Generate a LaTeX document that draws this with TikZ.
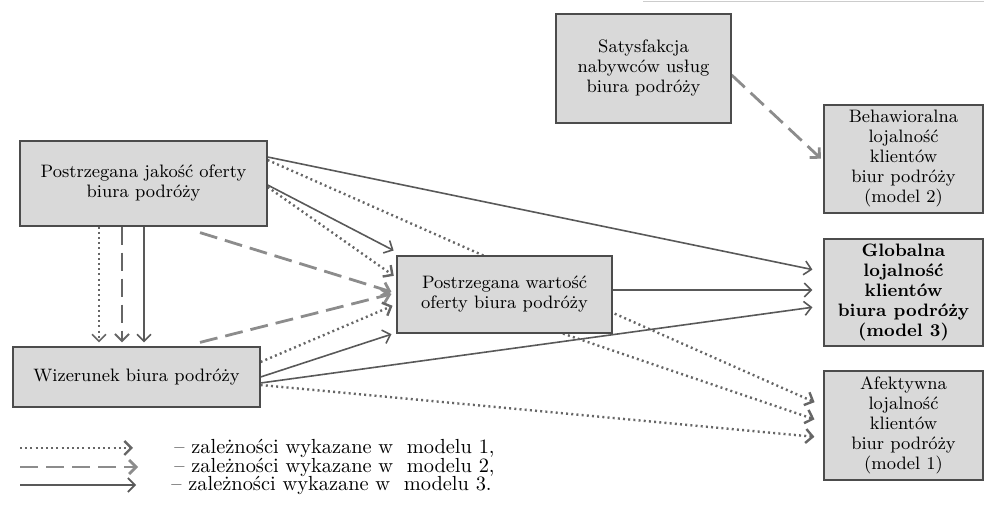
\documentclass[tikz,border=0pt]{standalone}
\usepackage{fontspec}
\usepackage{tikz}
\usetikzlibrary{arrows.meta,calc,backgrounds}

\tikzset{
  box/.style={draw=black!70, fill=black!15, line width=0.6pt, align=center,
    inner sep=2pt, font=\fontsize{9}{10}\selectfont},
  conn/.style={-{Straight Barb[length=3.5pt,width=7pt]}, shorten >=1pt},
  model1/.style={conn, draw=black!60, line width=1.2pt, dash pattern=on 1pt off 1.6pt},
  model2/.style={conn, draw=black!45, line width=1.4pt, dash pattern=on 9pt off 4pt},
  model3/.style={conn, draw=black!65, line width=0.8pt},
  legtext/.style={anchor=west, inner sep=0pt, font=\fontsize{10.2}{10}\selectfont}
}

\begin{document}
\begin{tikzpicture}[x=0.5pt,y=-0.5pt]
    \useasboundingbox (0,0) rectangle (984,522);
    \draw[black!20] (643,1) -- (984,1);

    % boxes
    \node[box, minimum width=87.5pt, minimum height=54.5pt] (sat) at (643.5,68.5)
        {Satysfakcja\\nabywców usług\\biura podróży};
    \node[box, minimum width=79.5pt, minimum height=54pt] (beh) at (903.5,159)
        {Behawioralna\\lojalność\\klientów\\biur podróży\\(model 2)};
    \node[box, minimum width=79.5pt, minimum height=53.5pt, font=\fontsize{9}{10}\selectfont\bfseries] (glob) at (903.5,292.5)
        {Globalna\\lojalność\\klientów\\biura podróży\\(model 3)};
    \node[box, minimum width=79.5pt, minimum height=54.5pt] (afek) at (903.5,425.5)
        {Afektywna\\lojalność\\klientów\\biur podróży\\(model 1)};
    \node[box, minimum width=123.5pt, minimum height=42.5pt] (jak) at (143.5,183.5)
        {Postrzegana jakość oferty\\biura podróży};
    \node[box, minimum width=123.5pt, minimum height=30pt] (wiz) at (136.5,377)
        {Wizerunek biura podróży};
    \node[box, minimum width=107.5pt, minimum height=38.5pt] (wart) at (504.5,294.5)
        {Postrzegana wartość\\oferty biura podróży};

    \path ($(jak.south)+(-44.5,0)$) coordinate (va)
          ($(jak.south)+(-21.5,0)$) coordinate (vb)
          ($(jak.south)+(0.5,0)$) coordinate (vc);

    \begin{scope}[on background layer]
        % jakosc
        \draw[model3] ($(jak.east)+(0,-26.5)$) -- ($(glob.west)+(-9,-22.5)$);
        \draw[model1] ($(jak.east)+(0,-23.5)$) -- ($(afek.west)+(-7,-22.5)$);
        \draw[model3] ($(jak.east)+(0,1.5)$) -- ($(wart.north west)+(-1,-4)$);
        \draw[model1] ($(jak.east)+(0,3.5)$) -- ($(wart.west)+(-1,-17.5)$);
        \draw[model2] ($(jak.south)+(56.5,6)$) -- ($(wart.west)+(-3,-2)$);
        \draw[model1, line width=0.8pt, shorten >=2pt] (va) -- (va |- wiz.north);
        \draw[model2, draw=black!60, line width=1pt, shorten >=2pt] (vb) -- (vb |- wiz.north);
        \draw[model3, shorten >=2pt] (vc) -- (vc |- wiz.north);
        % wizerunek
        \draw[model2] ($(wiz.north)+(63.5,-4)$) -- ($(wart.west)+(-3,-1)$);
        \draw[model1] ($(wiz.east)+(0,-15)$) -- ($(wart.west)+(-2,10.5)$);
        \draw[model3] (wiz.east) -- ($(wart.south west)+(-3,0)$);
        \draw[model3] ($(wiz.east)+(0,6)$) -- ($(glob.west)+(-9,14.5)$);
        \draw[model1] ($(wiz.east)+(0,8)$) -- ($(afek.west)+(-7,11.5)$);
        % wartosc
        \draw[model3] ($(wart.east)+(0,-4.5)$) -- ($(glob.west)+(-9,-2.5)$);
        \draw[model1] ($(wart.south)+(58.5,0)$) -- ($(afek.west)+(-7,-5.5)$);
        % satysfakcja
        \draw[model2] ($(sat.east)+(0,6.5)$) -- ($(beh.west)+(-1,1)$);
    \end{scope}

    % legend
    \coordinate (l1a) at (20,448);
    \coordinate (l1b) at (135,448);
    \coordinate (l2a) at (20,467);
    \coordinate (l2b) at (140,467);
    \coordinate (l3a) at (20,485);
    \coordinate (l3b) at (138,485);
    \draw[model1] (l1a) -- (l1b);
    \draw[model2] (l2a) -- (l2b);
    \draw[model3] (l3a) -- (l3b);
    \node[legtext] (leg1) at (174,448) {– zależności wykazane w\ \ modelu 1,};
    \node[legtext] (leg2) at (174,467) {– zależności wykazane w\ \ modelu 2,};
    \node[legtext] (leg3) at (171,485) {– zależności wykazane w\ \ modelu 3.};
\end{tikzpicture}
\end{document}
